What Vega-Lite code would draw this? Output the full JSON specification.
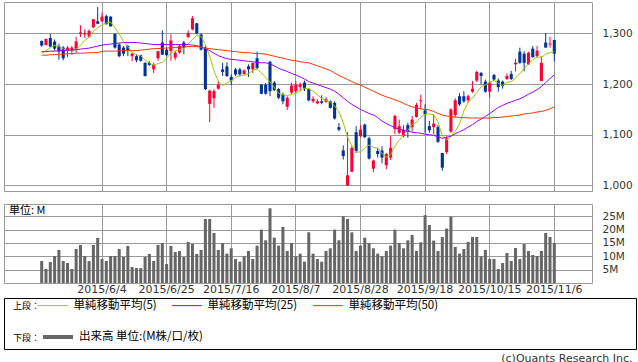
{
"$schema": "https://vega.github.io/schema/vega-lite/v6.json",
"padding": {"left": 3, "top": 1, "right": 0, "bottom": 0},
"background": "#ffffff",
"config": {
  "font": "DejaVu Sans",
  "view": {"stroke": "#999999", "strokeWidth": 1},
  "axis": {"gridColor": "#999999", "gridWidth": 1, "gridOpacity": 1, "labelColor": "#333333", "domain": false, "ticks": false, "title": null, "labelFont": "DejaVu Sans", "labelOverlap": false}
},
"title": {"text": "(c)Quants Research Inc.", "orient": "bottom", "anchor": "end", "font": "DejaVu Sans", "fontSize": 11, "fontWeight": "normal", "color": "#333333", "offset": 3, "baseline": "top", "dx": -4},
"datasets": {"px": [
{"d":"2015/5/15","o":1285,"h":1286,"l":1274,"c":1276,"v":8.25,"m5":1261,"m25":1264,"m50":1257},
{"d":"2015/5/18","o":1277,"h":1290,"l":1276,"c":1289,"v":5.25,"m5":1266,"m25":1264,"m50":1257},
{"d":"2015/5/19","o":1291,"h":1299,"l":1273,"c":1274,"v":7.9,"m5":1272,"m25":1265,"m50":1258},
{"d":"2015/5/20","o":1284,"h":1288,"l":1266,"c":1270,"v":10.1,"m5":1276,"m25":1265,"m50":1258},
{"d":"2015/5/21","o":1275,"h":1280,"l":1248,"c":1264,"v":12.4,"m5":1274.6,"m25":1266,"m50":1259},
{"d":"2015/5/22","o":1272,"h":1275,"l":1247,"c":1251,"v":8.25,"m5":1269.6,"m25":1266,"m50":1259},
{"d":"2015/5/25","o":1266,"h":1275,"l":1253,"c":1272,"v":7.5,"m5":1266.2,"m25":1267,"m50":1260},
{"d":"2015/5/26","o":1265,"h":1275,"l":1258,"c":1272,"v":5.25,"m5":1265.8,"m25":1267,"m50":1260},
{"d":"2015/5/27","o":1270,"h":1293,"l":1262,"c":1284,"v":12.75,"m5":1268.6,"m25":1268,"m50":1261},
{"d":"2015/5/28","o":1299,"h":1316,"l":1293,"c":1302,"v":14.25,"m5":1276.2,"m25":1269,"m50":1261},
{"d":"2015/5/29","o":1298,"h":1308,"l":1291,"c":1301,"v":10.1,"m5":1286.2,"m25":1270,"m50":1261},
{"d":"2015/6/1","o":1294,"h":1308,"l":1291,"c":1305,"v":8.25,"m5":1292.8,"m25":1271,"m50":1262},
{"d":"2015/6/2","o":1312,"h":1328,"l":1310,"c":1328,"v":14.25,"m5":1304,"m25":1273,"m50":1262},
{"d":"2015/6/3","o":1324,"h":1352,"l":1319,"c":1319,"v":16.9,"m5":1311,"m25":1275,"m50":1262},
{"d":"2015/6/4","o":1324,"h":1341,"l":1323,"c":1333,"v":9,"m5":1317.2,"m25":1277,"m50":1265},
{"d":"2015/6/5","o":1334,"h":1337,"l":1318,"c":1318,"v":8.25,"m5":1320.6,"m25":1278,"m50":1265},
{"d":"2015/6/8","o":1333,"h":1334,"l":1313,"c":1314,"v":10.1,"m5":1322.4,"m25":1279,"m50":1265},
{"d":"2015/6/9","o":1299,"h":1300,"l":1270,"c":1272,"v":10.1,"m5":1311.2,"m25":1280,"m50":1265},
{"d":"2015/6/10","o":1278,"h":1280,"l":1253,"c":1255,"v":12.75,"m5":1298.4,"m25":1281,"m50":1266},
{"d":"2015/6/11","o":1272,"h":1275,"l":1255,"c":1260,"v":9.75,"m5":1283.8,"m25":1282,"m50":1266},
{"d":"2015/6/12","o":1275,"h":1278,"l":1255,"c":1267,"v":13.9,"m5":1273.6,"m25":1282,"m50":1266},
{"d":"2015/6/15","o":1255,"h":1262,"l":1245,"c":1260,"v":6,"m5":1262.8,"m25":1282,"m50":1266},
{"d":"2015/6/16","o":1255,"h":1259,"l":1243,"c":1247,"v":5.6,"m5":1257.8,"m25":1282,"m50":1266},
{"d":"2015/6/17","o":1257,"h":1258,"l":1244,"c":1246,"v":5.6,"m5":1256,"m25":1281,"m50":1267},
{"d":"2015/6/18","o":1242,"h":1243,"l":1215,"c":1216,"v":9.75,"m5":1247.2,"m25":1280,"m50":1268},
{"d":"2015/6/19","o":1242,"h":1245,"l":1236,"c":1238,"v":10.9,"m5":1241.4,"m25":1279,"m50":1269},
{"d":"2015/6/22","o":1229,"h":1242,"l":1222,"c":1238,"v":8.25,"m5":1237,"m25":1278,"m50":1270},
{"d":"2015/6/23","o":1251,"h":1265,"l":1246,"c":1265,"v":14.25,"m5":1240.6,"m25":1278,"m50":1270},
{"d":"2015/6/24","o":1282,"h":1306,"l":1258,"c":1258,"v":15,"m5":1243,"m25":1278,"m50":1271},
{"d":"2015/6/25","o":1268,"h":1272,"l":1255,"c":1257,"v":7.1,"m5":1251.2,"m25":1278,"m50":1271},
{"d":"2015/6/26","o":1265,"h":1298,"l":1246,"c":1286,"v":13.9,"m5":1260.8,"m25":1278,"m50":1272},
{"d":"2015/6/29","o":1252,"h":1265,"l":1247,"c":1262,"v":11.6,"m5":1265.6,"m25":1278,"m50":1272},
{"d":"2015/6/30","o":1262,"h":1278,"l":1260,"c":1275,"v":12,"m5":1267.6,"m25":1278,"m50":1273},
{"d":"2015/7/1","o":1282,"h":1285,"l":1259,"c":1272,"v":9.75,"m5":1270.4,"m25":1278,"m50":1273},
{"d":"2015/7/2","o":1293,"h":1306,"l":1291,"c":1301,"v":15.4,"m5":1279.2,"m25":1278,"m50":1274},
{"d":"2015/7/3","o":1308,"h":1334,"l":1306,"c":1330,"v":14.6,"m5":1288,"m25":1277,"m50":1274},
{"d":"2015/7/6","o":1320,"h":1321,"l":1298,"c":1300,"v":10.9,"m5":1295.6,"m25":1276,"m50":1274},
{"d":"2015/7/7","o":1298,"h":1300,"l":1266,"c":1268,"v":12.4,"m5":1294.2,"m25":1273,"m50":1273},
{"d":"2015/7/8","o":1272,"h":1275,"l":1188,"c":1190,"v":24,"m5":1277.8,"m25":1270,"m50":1271},
{"d":"2015/7/9","o":1161,"h":1189,"l":1125,"c":1187,"v":24,"m5":1255,"m25":1266,"m50":1270},
{"d":"2015/7/10","o":1172,"h":1190,"l":1153,"c":1186,"v":18.75,"m5":1226.2,"m25":1261,"m50":1269},
{"d":"2015/7/13","o":1191,"h":1206,"l":1189,"c":1199,"v":12.4,"m5":1206,"m25":1256,"m50":1268},
{"d":"2015/7/14","o":1229,"h":1242,"l":1216,"c":1224,"v":15,"m5":1197.2,"m25":1253,"m50":1267},
{"d":"2015/7/15","o":1235,"h":1243,"l":1214,"c":1216,"v":11,"m5":1202.4,"m25":1250,"m50":1266},
{"d":"2015/7/16","o":1214,"h":1219,"l":1198,"c":1207,"v":13,"m5":1206.4,"m25":1249,"m50":1265},
{"d":"2015/7/17","o":1229,"h":1232,"l":1216,"c":1219,"v":9,"m5":1213,"m25":1248,"m50":1264},
{"d":"2015/7/21","o":1229,"h":1232,"l":1215,"c":1219,"v":8,"m5":1217,"m25":1247,"m50":1263},
{"d":"2015/7/22","o":1220,"h":1229,"l":1218,"c":1227,"v":10,"m5":1217.6,"m25":1246,"m50":1262},
{"d":"2015/7/23","o":1235,"h":1239,"l":1214,"c":1229,"v":12,"m5":1220.2,"m25":1245,"m50":1262},
{"d":"2015/7/24","o":1229,"h":1242,"l":1222,"c":1242,"v":9,"m5":1227.2,"m25":1244,"m50":1261},
{"d":"2015/7/27","o":1251,"h":1264,"l":1229,"c":1232,"v":14,"m5":1229.8,"m25":1243,"m50":1260},
{"d":"2015/7/28","o":1199,"h":1200,"l":1180,"c":1181,"v":20,"m5":1222.2,"m25":1242,"m50":1260},
{"d":"2015/7/29","o":1199,"h":1202,"l":1179,"c":1181,"v":16,"m5":1213,"m25":1242,"m50":1259},
{"d":"2015/7/30","o":1244,"h":1246,"l":1176,"c":1186,"v":28,"m5":1204.4,"m25":1240,"m50":1257},
{"d":"2015/7/31","o":1203,"h":1206,"l":1186,"c":1188,"v":17,"m5":1193.6,"m25":1236,"m50":1255},
{"d":"2015/8/3","o":1190,"h":1192,"l":1170,"c":1173,"v":14,"m5":1181.8,"m25":1231,"m50":1253},
{"d":"2015/8/4","o":1180,"h":1183,"l":1160,"c":1166,"v":21,"m5":1178.8,"m25":1228,"m50":1251},
{"d":"2015/8/5","o":1155,"h":1176,"l":1149,"c":1173,"v":12,"m5":1177.2,"m25":1225,"m50":1249},
{"d":"2015/8/6","o":1183,"h":1203,"l":1181,"c":1197,"v":15,"m5":1179.4,"m25":1221,"m50":1247},
{"d":"2015/8/7","o":1186,"h":1206,"l":1183,"c":1199,"v":10,"m5":1181.6,"m25":1218,"m50":1246},
{"d":"2015/8/10","o":1194,"h":1203,"l":1186,"c":1199,"v":11,"m5":1186.8,"m25":1214,"m50":1244},
{"d":"2015/8/11","o":1203,"h":1207,"l":1186,"c":1191,"v":8,"m5":1191.8,"m25":1210,"m50":1243},
{"d":"2015/8/12","o":1190,"h":1192,"l":1166,"c":1168,"v":19,"m5":1190.8,"m25":1205,"m50":1242},
{"d":"2015/8/13","o":1166,"h":1176,"l":1163,"c":1171,"v":11,"m5":1185.6,"m25":1202,"m50":1239},
{"d":"2015/8/14","o":1162,"h":1170,"l":1160,"c":1166,"v":9,"m5":1179,"m25":1199,"m50":1236},
{"d":"2015/8/17","o":1166,"h":1178,"l":1160,"c":1163,"v":8,"m5":1171.8,"m25":1196,"m50":1233},
{"d":"2015/8/18","o":1165,"h":1174,"l":1163,"c":1170,"v":12,"m5":1167.6,"m25":1193,"m50":1230},
{"d":"2015/8/19","o":1166,"h":1168,"l":1152,"c":1153,"v":13,"m5":1164.6,"m25":1190,"m50":1227},
{"d":"2015/8/20","o":1163,"h":1166,"l":1130,"c":1132,"v":20,"m5":1156.8,"m25":1186,"m50":1222},
{"d":"2015/8/21","o":1115,"h":1123,"l":1107,"c":1110,"v":16,"m5":1145.6,"m25":1180,"m50":1217},
{"d":"2015/8/24","o":1069,"h":1079,"l":1051,"c":1058,"v":25,"m5":1124.6,"m25":1173,"m50":1213},
{"d":"2015/8/25","o":1000,"h":1105,"l":999,"c":1020,"v":24,"m5":1094.6,"m25":1166,"m50":1209},
{"d":"2015/8/26","o":1027,"h":1078,"l":1027,"c":1074,"v":19,"m5":1078.8,"m25":1160,"m50":1205},
{"d":"2015/8/27","o":1105,"h":1117,"l":1064,"c":1068,"v":12,"m5":1066,"m25":1155,"m50":1201},
{"d":"2015/8/28","o":1097,"h":1119,"l":1095,"c":1110,"v":14,"m5":1066,"m25":1150,"m50":1198},
{"d":"2015/8/31","o":1120,"h":1122,"l":1094,"c":1095,"v":17,"m5":1073.4,"m25":1146,"m50":1194},
{"d":"2015/9/1","o":1093,"h":1096,"l":1051,"c":1053,"v":15,"m5":1080,"m25":1142,"m50":1190},
{"d":"2015/9/2","o":1033,"h":1051,"l":1026,"c":1049,"v":13,"m5":1075,"m25":1139,"m50":1186},
{"d":"2015/9/3","o":1068,"h":1074,"l":1055,"c":1062,"v":11,"m5":1073.8,"m25":1134,"m50":1182},
{"d":"2015/9/4","o":1069,"h":1077,"l":1044,"c":1055,"v":10,"m5":1062.8,"m25":1127,"m50":1178},
{"d":"2015/9/7","o":1040,"h":1064,"l":1032,"c":1062,"v":12,"m5":1056.2,"m25":1122,"m50":1175},
{"d":"2015/9/8","o":1055,"h":1097,"l":1050,"c":1074,"v":14,"m5":1060.4,"m25":1118,"m50":1172},
{"d":"2015/9/9","o":1111,"h":1140,"l":1101,"c":1137,"v":20,"m5":1078,"m25":1114,"m50":1169},
{"d":"2015/9/10","o":1104,"h":1130,"l":1101,"c":1117,"v":15,"m5":1089,"m25":1111,"m50":1166},
{"d":"2015/9/11","o":1097,"h":1119,"l":1095,"c":1110,"v":13,"m5":1100,"m25":1109,"m50":1162},
{"d":"2015/9/14","o":1119,"h":1124,"l":1094,"c":1107,"v":16,"m5":1109,"m25":1107,"m50":1158},
{"d":"2015/9/15","o":1115,"h":1137,"l":1106,"c":1130,"v":18,"m5":1120.2,"m25":1105,"m50":1155},
{"d":"2015/9/16","o":1135,"h":1163,"l":1134,"c":1159,"v":12,"m5":1124.6,"m25":1104,"m50":1153},
{"d":"2015/9/17","o":1166,"h":1179,"l":1151,"c":1168,"v":15.25,"m5":1134.8,"m25":1103,"m50":1151},
{"d":"2015/9/18","o":1148,"h":1160,"l":1104,"c":1140,"v":25.4,"m5":1140.8,"m25":1101,"m50":1150},
{"d":"2015/9/24","o":1117,"h":1127,"l":1104,"c":1109,"v":21.75,"m5":1141.2,"m25":1100,"m50":1149},
{"d":"2015/9/25","o":1115,"h":1140,"l":1101,"c":1122,"v":15.9,"m5":1139.6,"m25":1099,"m50":1146},
{"d":"2015/9/28","o":1115,"h":1119,"l":1084,"c":1086,"v":12,"m5":1125,"m25":1096,"m50":1142},
{"d":"2015/9/29","o":1064,"h":1064,"l":1029,"c":1035,"v":17.25,"m5":1098.4,"m25":1093,"m50":1139},
{"d":"2015/9/30","o":1066,"h":1097,"l":1062,"c":1093,"v":20.4,"m5":1089,"m25":1095,"m50":1137},
{"d":"2015/10/1","o":1106,"h":1152,"l":1104,"c":1150,"v":24.9,"m5":1097.2,"m25":1097,"m50":1136},
{"d":"2015/10/2","o":1139,"h":1172,"l":1134,"c":1168,"v":13.5,"m5":1106.4,"m25":1102,"m50":1135},
{"d":"2015/10/5","o":1176,"h":1182,"l":1157,"c":1160,"v":11,"m5":1121.2,"m25":1106,"m50":1134},
{"d":"2015/10/6","o":1176,"h":1186,"l":1163,"c":1166,"v":12.75,"m5":1147.4,"m25":1110,"m50":1134},
{"d":"2015/10/7","o":1168,"h":1179,"l":1163,"c":1176,"v":15.4,"m5":1164,"m25":1115,"m50":1133},
{"d":"2015/10/8","o":1185,"h":1206,"l":1183,"c":1191,"v":17.25,"m5":1172.2,"m25":1120,"m50":1133},
{"d":"2015/10/9","o":1207,"h":1226,"l":1204,"c":1224,"v":17.25,"m5":1183.4,"m25":1126,"m50":1133},
{"d":"2015/10/13","o":1222,"h":1224,"l":1199,"c":1216,"v":10,"m5":1194.6,"m25":1131,"m50":1133},
{"d":"2015/10/14","o":1205,"h":1209,"l":1183,"c":1185,"v":12.4,"m5":1198.4,"m25":1136,"m50":1133},
{"d":"2015/10/15","o":1185,"h":1205,"l":1173,"c":1203,"v":9,"m5":1203.8,"m25":1142,"m50":1133},
{"d":"2015/10/16","o":1218,"h":1220,"l":1206,"c":1209,"v":9,"m5":1207.4,"m25":1148,"m50":1134},
{"d":"2015/10/19","o":1207,"h":1211,"l":1185,"c":1194,"v":5.25,"m5":1201.4,"m25":1154,"m50":1134},
{"d":"2015/10/20","o":1205,"h":1207,"l":1191,"c":1196,"v":7.5,"m5":1197.4,"m25":1158,"m50":1135},
{"d":"2015/10/21","o":1210,"h":1221,"l":1208,"c":1216,"v":11.25,"m5":1203.6,"m25":1162,"m50":1136},
{"d":"2015/10/22","o":1220,"h":1226,"l":1208,"c":1210,"v":8.25,"m5":1205,"m25":1165,"m50":1137},
{"d":"2015/10/23","o":1239,"h":1250,"l":1225,"c":1242,"v":13.1,"m5":1211.6,"m25":1168,"m50":1138},
{"d":"2015/10/26","o":1264,"h":1272,"l":1240,"c":1242,"v":9,"m5":1221.2,"m25":1171,"m50":1139},
{"d":"2015/10/27","o":1260,"h":1265,"l":1225,"c":1242,"v":14.6,"m5":1230.4,"m25":1175,"m50":1141},
{"d":"2015/10/28","o":1239,"h":1264,"l":1238,"c":1262,"v":12,"m5":1239.6,"m25":1180,"m50":1142},
{"d":"2015/10/29","o":1270,"h":1275,"l":1252,"c":1253,"v":10.5,"m5":1248.2,"m25":1184,"m50":1143},
{"d":"2015/10/30","o":1255,"h":1275,"l":1253,"c":1266,"v":10.1,"m5":1253,"m25":1189,"m50":1145},
{"d":"2015/11/2","o":1206,"h":1255,"l":1206,"c":1242,"v":12,"m5":1253,"m25":1195,"m50":1146},
{"d":"2015/11/4","o":1282,"h":1301,"l":1272,"c":1272,"v":18.75,"m5":1259,"m25":1203,"m50":1148},
{"d":"2015/11/5","o":1278,"h":1293,"l":1272,"c":1280,"v":17.25,"m5":1262.6,"m25":1211,"m50":1151},
{"d":"2015/11/6","o":1287,"h":1287,"l":1245,"c":1260,"v":15,"m5":1264,"m25":1218,"m50":1155}
]},
"spacing": 2,
"resolve": {"scale": {"stroke": "shared", "color": "shared"}, "legend": {"stroke": "shared", "color": "shared"}},
"vconcat": [
  {
    "spacing": 11,
    "resolve": {"scale": {"stroke": "shared", "color": "shared"}, "legend": {"stroke": "shared", "color": "shared"}},
    "vconcat": [
      {
        "width": 588, "height": 189,
        "data": {"name": "px"},
        "encoding": {
          "x": {"field": "d", "type": "ordinal", "sort": null,
                "scale": {"type": "band", "paddingInner": 0, "paddingOuter": 0.25, "align": 0.5,
                  "domain": ["2015/4/30","2015/5/1","2015/5/7","2015/5/8","2015/5/11","2015/5/12","2015/5/13","2015/5/14","2015/5/15","2015/5/18","2015/5/19","2015/5/20","2015/5/21","2015/5/22","2015/5/25","2015/5/26","2015/5/27","2015/5/28","2015/5/29","2015/6/1","2015/6/2","2015/6/3","2015/6/4","2015/6/5","2015/6/8","2015/6/9","2015/6/10","2015/6/11","2015/6/12","2015/6/15","2015/6/16","2015/6/17","2015/6/18","2015/6/19","2015/6/22","2015/6/23","2015/6/24","2015/6/25","2015/6/26","2015/6/29","2015/6/30","2015/7/1","2015/7/2","2015/7/3","2015/7/6","2015/7/7","2015/7/8","2015/7/9","2015/7/10","2015/7/13","2015/7/14","2015/7/15","2015/7/16","2015/7/17","2015/7/21","2015/7/22","2015/7/23","2015/7/24","2015/7/27","2015/7/28","2015/7/29","2015/7/30","2015/7/31","2015/8/3","2015/8/4","2015/8/5","2015/8/6","2015/8/7","2015/8/10","2015/8/11","2015/8/12","2015/8/13","2015/8/14","2015/8/17","2015/8/18","2015/8/19","2015/8/20","2015/8/21","2015/8/24","2015/8/25","2015/8/26","2015/8/27","2015/8/28","2015/8/31","2015/9/1","2015/9/2","2015/9/3","2015/9/4","2015/9/7","2015/9/8","2015/9/9","2015/9/10","2015/9/11","2015/9/14","2015/9/15","2015/9/16","2015/9/17","2015/9/18","2015/9/24","2015/9/25","2015/9/28","2015/9/29","2015/9/30","2015/10/1","2015/10/2","2015/10/5","2015/10/6","2015/10/7","2015/10/8","2015/10/9","2015/10/13","2015/10/14","2015/10/15","2015/10/16","2015/10/19","2015/10/20","2015/10/21","2015/10/22","2015/10/23","2015/10/26","2015/10/27","2015/10/28","2015/10/29","2015/10/30","2015/11/2","2015/11/4","2015/11/5","2015/11/6","2015/11/9","2015/11/10","2015/11/11","2015/11/12","2015/11/13","2015/11/16","2015/11/17","2015/11/18"]},
                "axis": {"values": ["2015/6/4","2015/6/25","2015/7/16","2015/8/7","2015/8/28","2015/9/18","2015/10/15","2015/11/6"], "labels": false, "grid": true, "bandPosition": 0.5}}
        },
        "layer": [
          {"mark": {"type": "rule", "strokeWidth": 1},
           "encoding": {
             "y": {"field": "l", "type": "quantitative", "scale": {"domain": [989, 1362], "nice": false, "zero": false},
                   "axis": {"orient": "right", "values": [1000,1050,1100,1150,1200,1250,1300,1350], "format": ",d", "labelPadding": 10, "labelFontSize": 10.5, "labelBaseline": "middle",
                            "gridOpacity": {"condition": {"test": "datum.value >= 1350", "value": 0}, "value": 1}}},
             "y2": {"field": "h"},
             "color": {"condition": {"test": "datum.c >= datum.o", "value": "#ff0033"}, "value": "#003399"}}},
          {"mark": {"type": "bar", "width": {"band": 0.72}},
           "encoding": {
             "y": {"field": "o", "type": "quantitative"},
             "y2": {"field": "c"},
             "color": {"condition": {"test": "datum.c >= datum.o", "value": "#ff0033"}, "value": "#003399"}}},
          {"transform": [{"fold": ["m5", "m25", "m50"], "as": ["key", "val"]}],
           "mark": {"type": "line", "strokeWidth": 1},
           "encoding": {
             "y": {"field": "val", "type": "quantitative"},
             "order": {"value": null},
             "stroke": {"field": "key", "type": "nominal",
               "scale": {"domain": ["m5", "m25", "m50"], "range": ["#99cc00", "#9900ff", "#ff3300"]},
               "legend": {
                 "orient": "none", "legendX": 9, "legendY": 297.5, "padding": 0,
                 "direction": "horizontal",
                 "title": "上段：", "titleOrient": "left", "titleFont": "Noto Sans CJK JP", "titleFontSize": 9, "titleFontWeight": "normal", "titleColor": "#000000", "titleBaseline": "top", "titlePadding": 0,
                 "symbolType": "M-3,0H3", "symbolSize": 100, "symbolStrokeWidth": 1, "symbolOffset": 6,
                 "labelFont": "Noto Sans CJK JP", "labelFontSize": 11.5, "labelColor": "#000000", "labelOffset": 15, "labelLimit": 400,
                 "columnPadding": 12,
                 "labelExpr": "datum.label == 'm5' ? '単純移動平均(5)' : datum.label == 'm25' ? '単純移動平均(25)' : '単純移動平均(50)'",
                 "encode": {"title": {"update": {"dy": {"value": -4}}}}
               }}}}
        ]
      },
      {
        "width": 588, "height": 79,
        "title": {"text": "単位: M", "anchor": "start", "orient": "top", "offset": -12, "dx": 5, "font": "Noto Sans CJK JP", "fontSize": 11, "fontWeight": "normal", "color": "#000000"},
        "data": {"name": "px"},
        "mark": {"type": "bar", "width": {"band": 0.7}},
        "encoding": {
          "x": {"field": "d", "type": "ordinal", "sort": null,
                "scale": {"type": "band", "paddingInner": 0, "paddingOuter": 0.25, "align": 0.5,
                  "domain": ["2015/4/30","2015/5/1","2015/5/7","2015/5/8","2015/5/11","2015/5/12","2015/5/13","2015/5/14","2015/5/15","2015/5/18","2015/5/19","2015/5/20","2015/5/21","2015/5/22","2015/5/25","2015/5/26","2015/5/27","2015/5/28","2015/5/29","2015/6/1","2015/6/2","2015/6/3","2015/6/4","2015/6/5","2015/6/8","2015/6/9","2015/6/10","2015/6/11","2015/6/12","2015/6/15","2015/6/16","2015/6/17","2015/6/18","2015/6/19","2015/6/22","2015/6/23","2015/6/24","2015/6/25","2015/6/26","2015/6/29","2015/6/30","2015/7/1","2015/7/2","2015/7/3","2015/7/6","2015/7/7","2015/7/8","2015/7/9","2015/7/10","2015/7/13","2015/7/14","2015/7/15","2015/7/16","2015/7/17","2015/7/21","2015/7/22","2015/7/23","2015/7/24","2015/7/27","2015/7/28","2015/7/29","2015/7/30","2015/7/31","2015/8/3","2015/8/4","2015/8/5","2015/8/6","2015/8/7","2015/8/10","2015/8/11","2015/8/12","2015/8/13","2015/8/14","2015/8/17","2015/8/18","2015/8/19","2015/8/20","2015/8/21","2015/8/24","2015/8/25","2015/8/26","2015/8/27","2015/8/28","2015/8/31","2015/9/1","2015/9/2","2015/9/3","2015/9/4","2015/9/7","2015/9/8","2015/9/9","2015/9/10","2015/9/11","2015/9/14","2015/9/15","2015/9/16","2015/9/17","2015/9/18","2015/9/24","2015/9/25","2015/9/28","2015/9/29","2015/9/30","2015/10/1","2015/10/2","2015/10/5","2015/10/6","2015/10/7","2015/10/8","2015/10/9","2015/10/13","2015/10/14","2015/10/15","2015/10/16","2015/10/19","2015/10/20","2015/10/21","2015/10/22","2015/10/23","2015/10/26","2015/10/27","2015/10/28","2015/10/29","2015/10/30","2015/11/2","2015/11/4","2015/11/5","2015/11/6","2015/11/9","2015/11/10","2015/11/11","2015/11/12","2015/11/13","2015/11/16","2015/11/17","2015/11/18"]},
                "axis": {"values": ["2015/6/4","2015/6/25","2015/7/16","2015/8/7","2015/8/28","2015/9/18","2015/10/15","2015/11/6"], "labels": true, "grid": true, "bandPosition": 0.5, "labelAngle": 0, "labelFontSize": 11, "labelPadding": 0}},
          "y": {"field": "v", "type": "quantitative", "scale": {"domain": [0, 29.6], "nice": false},
                "axis": {"orient": "right", "values": [5,10,15,20,25], "labelExpr": "datum.value + 'M'", "labelPadding": 10, "labelFontSize": 10.5, "labelOverlap": false, "labelBaseline": "middle"}},
          "color": {"datum": "出来高 単位:(M株/口/枚)", "type": "nominal",
               "scale": {"range": ["#666666"]},
               "legend": {
                 "orient": "none", "legendX": 9, "legendY": 328, "padding": 0,
                 "title": "下段：", "titleOrient": "left", "titleFont": "Noto Sans CJK JP", "titleFontSize": 9, "titleFontWeight": "normal", "titleColor": "#000000", "titleBaseline": "top", "titlePadding": 0,
                 "symbolType": "M-3,0H3", "symbolSize": 100, "symbolStrokeWidth": 4, "symbolOffset": 10,
                 "labelFont": "Noto Sans CJK JP", "labelFontSize": 11.5, "labelColor": "#000000", "labelOffset": 14, "labelLimit": 400,
                 "encode": {"symbols": {"update": {"stroke": {"value": "#666666"}, "strokeWidth": {"value": 4}, "fill": {"value": "transparent"}}},
                            "title": {"update": {"dy": {"value": -4}}}}
               }}
        }
      }
    ]
  },
  {
    "width": 632, "height": 51,
    "view": {"stroke": "#000000"},
    "data": {"values": [{}]},
    "mark": {"type": "text", "text": ""},
    "encoding": {}
  }
]
}
